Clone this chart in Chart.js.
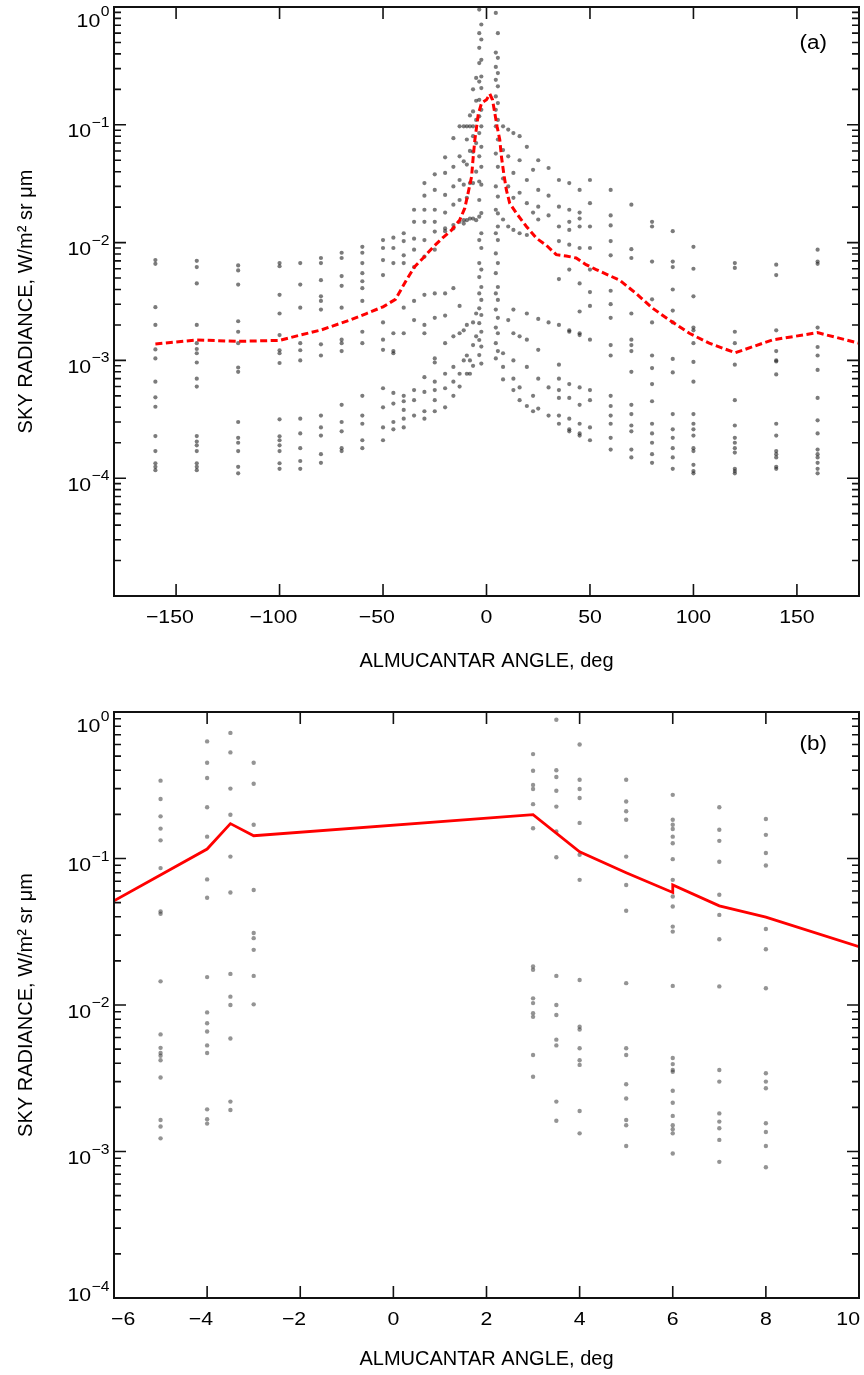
<!DOCTYPE html>
<html>
<head>
<meta charset="utf-8">
<title>Sky radiance vs almucantar angle</title>
<script src="https://cdn.jsdelivr.net/npm/chart.js@4.4.1/dist/chart.umd.min.js"></script>
<style>
  html, body { margin: 0; padding: 0; background: #fff; }
  .panel { position: absolute; left: 0; width: 864px; }
  #panelA { top: 0; height: 690px; }
  #panelB { top: 690px; height: 685px; }
</style>
</head>
<body>
<div class="panel" id="panelA"><canvas id="chartA" width="864" height="690"></canvas></div>
<div class="panel" id="panelB"><canvas id="chartB" width="864" height="685"></canvas></div>
<script>
/* ---------- data ---------- */

// (a) measured radiances, one column of values per almucantar angle (deg)
const anglesA = [-160, -140, -120, -100, -90, -80, -70, -60, -50, -45, -40, -35, -30, -25,
  -20, -16, -13, -11, -9.5, -8, -6.5, -5, -3.5, -2.5,
  4.5, 5.5, 8, 10.5, 13, 16, 19.5, 22.5, 25, 30, 35, 40, 45, 50, 60, 70, 80, 90, 100, 120, 140, 160];
const radiancesA = [
  [7.1e-3, 6.6e-3, 2.83e-3, 2.0e-3, 1.24e-3, 1.04e-3, 6.6e-4, 4.86e-4, 4.04e-4, 2.28e-4, 1.7e-4, 1.34e-4, 1.25e-4, 1.17e-4],
  [7.0e-3, 6.2e-3, 4.5e-3, 2.0e-3, 1.4e-3, 1.25e-3, 1.15e-3, 9.6e-4, 7.0e-4, 6.0e-4, 2.28e-4, 2.05e-4, 1.9e-4, 1.7e-4, 1.34e-4, 1.25e-4, 1.17e-4],
  [6.4e-3, 5.8e-3, 4.4e-3, 2.15e-3, 1.75e-3, 1.4e-3, 8.7e-4, 8.0e-4, 3.0e-4, 2.2e-4, 2.0e-4, 1.7e-4, 1.25e-4, 1.1e-4],
  [6.7e-3, 6.3e-3, 3.6e-3, 2.5e-3, 1.64e-3, 1.22e-3, 1.15e-3, 9.5e-4, 3.16e-4, 2.27e-4, 2.1e-4, 1.9e-4, 1.7e-4, 1.34e-4, 1.2e-4],
  [6.7e-3, 4.4e-3, 2.8e-3, 1.4e-3, 1.22e-3, 1.0e-3, 3.2e-4, 2.4e-4, 1.8e-4, 1.4e-4, 1.2e-4],
  [7.4e-3, 6.7e-3, 4.8e-3, 3.5e-3, 3.2e-3, 2.7e-3, 1.37e-3, 1.1e-3, 3.4e-4, 2.7e-4, 2.3e-4, 1.6e-4, 1.35e-4],
  [8.2e-3, 7.4e-3, 5.2e-3, 4.3e-3, 2.8e-3, 1.5e-3, 1.4e-3, 1.2e-3, 4.2e-4, 3.0e-4, 2.5e-4, 1.8e-4, 1.7e-4],
  [9.2e-3, 8.2e-3, 6.7e-3, 5.5e-3, 4.7e-3, 4.1e-3, 3.2e-3, 1.75e-3, 1.4e-3, 5.0e-4, 3.4e-4, 2.9e-4, 2.1e-4, 1.8e-4],
  [1.05e-2, 9.0e-3, 7.1e-3, 5.3e-3, 2.1e-3, 1.5e-3, 1.23e-3, 5.8e-4, 4.0e-4, 2.7e-4, 2.1e-4],
  [1.1e-2, 9.0e-3, 6.7e-3, 1.7e-3, 1.2e-3, 1.15e-3, 5.3e-4, 4.3e-4, 3.0e-4, 2.6e-4],
  [1.2e-2, 1.03e-2, 7.8e-3, 6.7e-3, 2.8e-3, 1.7e-3, 5.0e-4, 4.5e-4, 3.8e-4, 3.2e-4, 2.7e-4],
  [1.9e-2, 1.5e-2, 1.08e-2, 8.7e-3, 6.2e-3, 3.2e-3, 2.2e-3, 5.6e-4, 4.6e-4, 3.4e-4],
  [3.2e-2, 2.5e-2, 1.9e-2, 1.5e-2, 1.05e-2, 7.6e-3, 3.6e-3, 2.0e-3, 1.7e-3, 7.2e-4, 5.4e-4, 3.7e-4, 3.2e-4],
  [3.8e-2, 2.8e-2, 1.9e-2, 1.5e-2, 1.24e-2, 8.7e-3, 3.7e-3, 2.3e-3, 1.04e-3, 9.6e-4, 6.6e-4, 5.6e-4, 4.6e-4, 3.7e-4],
  [0.053, 0.039, 0.0254, 0.018, 0.0132, 0.0125, 3.7e-3, 2.4e-3, 1.4e-3, 7.7e-4, 5.8e-4, 4.0e-4],
  [0.077, 0.044, 0.030, 0.021, 0.0141, 0.0132, 4.1e-3, 1.6e-3, 8.8e-4, 6.6e-4, 5.0e-4],
  [0.097, 0.054, 0.034, 0.023, 0.015, 2.9e-3, 1.7e-3, 7.7e-4, 6.0e-4],
  [0.097, 0.049, 0.031, 0.0155, 0.0145, 1.8e-3, 1.0e-3],
  [0.097, 0.075, 0.046, 0.024, 0.0155, 2.0e-3, 1.1e-3, 7.7e-4],
  [0.12, 0.097, 0.06, 0.032, 0.016, 1.0e-3, 7.7e-4],
  [0.2, 0.13, 0.097, 0.08, 0.059, 0.032, 0.016, 2.1e-3, 1.35e-3, 9.0e-4],
  [0.25, 0.16, 0.11, 0.07, 0.04, 0.0155, 2.5e-3, 1.6e-3],
  [0.95, 0.60, 0.45, 0.334, 0.233, 0.163, 0.118, 0.085, 0.054, 0.033, 0.023, 0.0166, 0.0105, 0.0067, 0.0051, 0.0037, 2.77e-3, 2.07e-3, 1.49e-3, 1.11e-3],
  [0.71, 0.53, 0.356, 0.257, 0.205, 0.134, 0.097, 0.065, 0.044, 0.031, 0.0178, 0.012, 0.009, 0.0059, 0.0042, 3.26e-3, 2.43e-3, 1.75e-3, 1.31e-3, 9.4e-4],
  [0.89, 0.41, 0.31, 0.241, 0.174, 0.134, 0.097, 0.057, 0.030, 0.019, 0.012, 0.0081, 0.0055, 0.0037, 2.7e-3, 1.9e-3, 1.4e-3, 1.04e-3],
  [0.60, 0.37, 0.275, 0.212, 0.153, 0.110, 0.075, 0.044, 0.0246, 0.0177, 0.0137, 0.0105, 0.0067, 0.0042, 3.26e-3, 2.3e-3, 1.7e-3, 1.2e-3],
  [0.097, 0.061, 0.035, 0.0157, 1.15e-3, 8.8e-4, 6.9e-4],
  [0.091, 0.054, 0.030, 0.0137, 2.2e-3],
  [0.085, 0.039, 0.024, 0.0128, 2.7e-3, 1.7e-3, 1.0e-3, 7.0e-4, 5.6e-4],
  [0.080, 0.050, 0.0265, 0.012, 1.6e-3, 5.9e-4, 4.6e-4],
  [0.065, 0.034, 0.0216, 0.0116, 2.5e-3, 1.5e-3, 8.8e-4, 4.1e-4],
  [0.0415, 0.018, 5.0e-4, 3.7e-4],
  [0.050, 0.028, 0.0202, 0.0157, 2.25e-3, 1.23e-3, 7.0e-4, 3.9e-4],
  [0.043, 0.025, 0.017, 2.1e-3, 5.9e-4, 3.4e-4],
  [0.034, 0.0202, 0.0137, 0.0103, 4.9e-3, 2.0e-3, 9.2e-4, 7.0e-4, 5.6e-4, 4.8e-4, 3.4e-4, 2.9e-4],
  [0.032, 0.019, 0.015, 0.0128, 9.6e-3, 5.9e-3, 1.8e-3, 1.75e-3, 6.3e-4, 4.8e-4, 3.2e-4, 2.6e-4, 2.5e-4],
  [0.028, 0.018, 0.016, 0.0137, 9.0e-3, 4.5e-3, 2.6e-3, 1.7e-3, 1.64e-3, 5.9e-4, 4.2e-4, 2.9e-4, 2.4e-4, 2.3e-4],
  [0.034, 0.0216, 0.0137, 9.0e-3, 5.9e-3, 3.8e-3, 2.9e-3, 1.5e-3, 5.6e-4, 4.6e-4, 2.7e-4, 2.1e-4],
  [0.028, 0.017, 0.014, 0.0103, 7.8e-3, 3.9e-3, 3.0e-3, 2.3e-3, 1.35e-3, 1.1e-3, 5.0e-4, 4.1e-4, 3.4e-4, 2.9e-4, 2.2e-4, 1.75e-4],
  [0.021, 8.8e-3, 7.4e-3, 2.5e-3, 1.5e-3, 1.35e-3, 1.2e-3, 8.0e-4, 4.2e-4, 3.5e-4, 2.8e-4, 2.5e-4, 1.75e-4, 1.5e-4],
  [0.015, 0.0137, 6.9e-3, 3.3e-3, 2.1e-3, 1.1e-3, 8.6e-4, 6.3e-4, 4.5e-4, 2.9e-4, 2.4e-4, 2.0e-4, 1.6e-4, 1.35e-4],
  [0.0125, 6.9e-3, 6.2e-3, 4.0e-3, 2.65e-3, 2.1e-3, 1.03e-3, 7.9e-4, 3.5e-4, 2.6e-4, 2.2e-4, 1.8e-4, 1.5e-4, 1.2e-4],
  [9.2e-3, 6.0e-3, 3.5e-3, 1.9e-3, 1.8e-3, 1.4e-3, 9.7e-4, 6.6e-4, 3.5e-4, 2.9e-4, 2.6e-4, 2.3e-4, 1.8e-4, 1.7e-4, 1.3e-4, 1.15e-4, 1.1e-4],
  [6.7e-3, 6.1e-3, 1.75e-3, 1.4e-3, 9.2e-4, 4.6e-4, 2.8e-4, 2.2e-4, 2.0e-4, 1.8e-4, 1.65e-4, 1.2e-4, 1.15e-4, 1.1e-4],
  [6.5e-3, 5.3e-3, 1.8e-3, 1.2e-3, 1.0e-3, 9.8e-4, 7.6e-4, 2.9e-4, 2.3e-4, 1.7e-4, 1.6e-4, 1.5e-4, 1.25e-4, 1.2e-4],
  [8.7e-3, 6.9e-3, 6.6e-3, 1.9e-3, 1.3e-3, 1.1e-3, 8.3e-4, 4.8e-4, 3.1e-4, 2.4e-4, 1.75e-4, 1.6e-4, 1.5e-4, 1.35e-4, 1.2e-4, 1.1e-4]
];

// (a) model curve (red dashed)
const modelAngleA = [-160, -140, -120, -100, -90, -80, -66, -58, -50, -44, -38.7, -34.7, -30.6, -25.7, -20.9,
  -16.8, -12.9, -10.5, -8.9, -7.2, -6.4, -5.6, -4.0, -2.4, 0, 1.6, 2.9, 4.0, 5.1, 6.4, 7.2, 8.3, 9.6,
  11.2, 14.4, 19.3, 24.1, 28.9, 33.7, 38.5, 43.3, 48.1, 53, 64.3, 72.3, 80.3, 88.4, 98, 107.6, 120.2,
  138, 159.9, 180];
const modelRadA = [1.38e-3, 1.49e-3, 1.45e-3, 1.48e-3, 1.64e-3, 1.81e-3, 2.2e-3, 2.5e-3, 2.85e-3, 3.3e-3,
  4.8e-3, 6.25e-3, 7.4e-3, 9.2e-3, 1.11e-2, 1.28e-2, 1.56e-2, 1.96e-2, 2.63e-2, 3.64e-2, 5.4e-2, 7.5e-2,
  0.122, 0.153, 0.163, 0.183, 0.163, 0.126, 0.097, 0.075, 0.054, 0.039, 0.028, 0.0216, 0.0178, 0.0137,
  0.0109, 9.5e-3, 7.9e-3, 7.7e-3, 7.4e-3, 6.5e-3, 5.9e-3, 4.8e-3, 3.7e-3, 2.77e-3, 2.2e-3, 1.7e-3,
  1.4e-3, 1.16e-3, 1.49e-3, 1.72e-3, 1.4e-3];

// (b) measured radiances near the sun
const anglesB = [-5, -4, -3.5, -3, 3, 3.5, 4, 5, 6, 7, 8];
const radiancesB = [
  [0.34, 0.255, 0.194, 0.16, 0.133, 0.086, 0.0435, 0.042, 0.0145, 6.3e-3, 5.1e-3, 4.7e-3, 4.5e-3, 4.2e-3, 3.2e-3, 1.64e-3, 1.48e-3, 1.23e-3],
  [0.63, 0.45, 0.354, 0.224, 0.141, 0.072, 0.054, 0.0155, 8.9e-3, 7.5e-3, 6.6e-3, 5.3e-3, 4.7e-3, 1.94e-3, 1.66e-3, 1.55e-3],
  [0.72, 0.53, 0.30, 0.199, 0.103, 0.0586, 0.0163, 0.0114, 0.010, 5.9e-3, 2.19e-3, 1.92e-3],
  [0.45, 0.324, 0.17, 0.061, 0.031, 0.0286, 0.0238, 0.0158, 0.0101],
  [0.516, 0.397, 0.318, 0.298, 0.235, 0.161, 0.0183, 0.0174, 0.0111, 0.0103, 8.8e-3, 8.3e-3, 4.56e-3, 3.24e-3],
  [0.885, 0.40, 0.36, 0.29, 0.226, 0.153, 0.102, 0.0158, 0.010, 8.55e-3, 5.8e-3, 5.3e-3, 2.19e-3, 1.62e-3],
  [0.60, 0.345, 0.298, 0.259, 0.175, 0.106, 0.0715, 0.0148, 7.1e-3, 6.8e-3, 5.07e-3, 4.2e-3, 3.9e-3, 1.89e-3, 1.33e-3],
  [0.345, 0.245, 0.21, 0.184, 0.103, 0.066, 0.044, 0.0141, 5.07e-3, 4.56e-3, 2.88e-3, 2.3e-3, 1.64e-3, 1.51e-3, 1.09e-3],
  [0.272, 0.184, 0.17, 0.159, 0.141, 0.127, 0.099, 0.0715, 0.055, 0.047, 0.0343, 0.0317, 0.0135, 4.35e-3, 3.95e-3, 3.6e-3, 3.5e-3, 2.6e-3, 2.15e-3, 1.75e-3, 1.51e-3, 1.42e-3, 1.33e-3, 9.7e-4],
  [0.224, 0.157, 0.132, 0.095, 0.0565, 0.0412, 0.0281, 0.0134, 3.6e-3, 3.0e-3, 1.82e-3, 1.6e-3, 1.44e-3, 1.2e-3, 8.5e-4],
  [0.186, 0.145, 0.109, 0.0896, 0.033, 0.024, 0.013, 3.42e-3, 3.0e-3, 2.7e-3, 1.56e-3, 1.36e-3, 1.09e-3, 7.8e-4]
];

// (b) model curve (red solid)
const modelAngleB = [-6, -4, -3.5, -3, 3, 4, 5, 6, 6, 7, 8, 10];
const modelRadB = [0.0514, 0.116, 0.173, 0.143, 0.199, 0.111, 0.080, 0.0586, 0.066, 0.0475, 0.0398, 0.025];

// axis ticks and labels
const xTicksA = [-150, -100, -50, 0, 50, 100, 150];
const xTicksB = [-6, -4, -2, 0, 2, 4, 6, 8, 10];
const yDecades = [1, 0.1, 0.01, 0.001, 0.0001];
const yExponents = ['0', '\u22121', '\u22122', '\u22123', '\u22124'];

/* ---------- helpers ---------- */

const FONT = '"Liberation Sans", Arial, Helvetica, sans-serif';
const SX = 1.12;            // the printed lettering is a little wide
const Y_TITLE = 'SKY RADIANCE, W/m² sr μm';
const X_TITLE = 'ALMUCANTAR ANGLE, deg';

function columnsToPoints(angles, values) {
  const pts = [];
  angles.forEach((a, i) => values[i].forEach(v => pts.push({ x: a, y: v })));
  return pts;
}

function pairsToPoints(xs, ys) {
  return xs.map((x, i) => ({ x, y: ys[i] }));
}

// 1..9 x 10^n ticks between two decades
function logTicks(min, max) {
  const out = [];
  for (let e = Math.round(Math.log10(min)); e < Math.round(Math.log10(max)); e++) {
    for (let m = 1; m < 10; m++) out.push({ value: m * Math.pow(10, e) });
  }
  out.push({ value: max });
  return out;
}

function textWidth(ctx, text, size) {
  ctx.font = size + 'px ' + FONT;
  return ctx.measureText(text).width * SX;
}

function drawText(ctx, text, left, baseline, size) {
  ctx.save();
  ctx.font = size + 'px ' + FONT;
  ctx.translate(left, baseline);
  ctx.scale(SX, 1);
  ctx.textAlign = 'left';
  ctx.textBaseline = 'alphabetic';
  ctx.fillText(text, 0, 0);
  ctx.restore();
}

// inward ticks on all four sides, frame, tick labels and panel letter
const frameTicks = {
  id: 'frameTicks',
  afterDraw(chart, args, opts) {
    const { ctx, chartArea: a, scales: { x, y } } = chart;
    ctx.save();
    ctx.strokeStyle = '#111';
    ctx.lineWidth = 1.6;
    ctx.beginPath();
    x.ticks.forEach(t => {
      const px = x.getPixelForValue(t.value);
      ctx.moveTo(px, a.bottom); ctx.lineTo(px, a.bottom - 12);
      ctx.moveTo(px, a.top); ctx.lineTo(px, a.top + 12);
    });
    y.ticks.forEach(t => {
      const py = y.getPixelForValue(t.value);
      const lg = Math.log10(t.value);
      const len = Math.abs(lg - Math.round(lg)) < 1e-6 ? 12 : 7;
      ctx.moveTo(a.left, py); ctx.lineTo(a.left + len, py);
      ctx.moveTo(a.right, py); ctx.lineTo(a.right - len, py);
    });
    ctx.stroke();
    ctx.lineWidth = 2;
    ctx.strokeRect(a.left, a.top, a.right - a.left, a.bottom - a.top);

    ctx.fillStyle = '#000';
    // x tick labels: digits centred on the tick, minus sign hanging left
    x.ticks.forEach(t => {
      const v = t.value;
      const digits = String(Math.abs(v));
      const wd = textWidth(ctx, digits, 19);
      const wm = v < 0 ? textWidth(ctx, '\u2212', 19) : 0;
      let start = x.getPixelForValue(v) - wd / 2;
      if (start - wm < a.left - 3) start = a.left - 3 + wm;
      if (start + wd > a.right + 1) start = a.right + 1 - wd;
      if (v < 0) drawText(ctx, '\u2212', start - wm, a.bottom + 27, 19);
      drawText(ctx, digits, start, a.bottom + 27, 19);
    });
    // y tick labels: 10 with a raised exponent, kept inside the frame height
    yDecades.forEach((d, i) => {
      if (d < opts.yLabelMin) return;
      const py = y.getPixelForValue(d);
      const base = Math.min(Math.max(py + 12.5, a.top + 19.5), a.bottom + 3);
      const w10 = textWidth(ctx, '10', 19);
      const we = textWidth(ctx, yExponents[i], 14);
      const start = a.left - 5 - w10 - we;
      drawText(ctx, '10', start, base, 19);
      drawText(ctx, yExponents[i], start + w10 + 0.5, base - 10.5, 14);
    });
    // panel letter
    const wl = textWidth(ctx, opts.label, 20);
    drawText(ctx, opts.label, a.right - 32 - wl, a.top + opts.labelDy + 7, 20);
    ctx.restore();
  }
};

function makeChart(id, cfg) {
  return new Chart(document.getElementById(id), {
    type: 'scatter',
    data: {
      datasets: [
        {
          data: cfg.model,
          showLine: true,
          borderColor: '#ff0000',
          borderWidth: cfg.dashed ? 3 : 2.8,
          borderDash: cfg.dashed ? [7, 3.5] : [],
          pointRadius: 0,
          tension: 0,
          order: 0
        },
        {
          data: cfg.points,
          showLine: false,
          pointRadius: cfg.dotSize,
          pointStyle: 'circle',
          backgroundColor: cfg.dotColor,
          borderWidth: 0,
          order: 1
        }
      ]
    },
    options: {
      responsive: false,
      animation: false,
      events: [],
      layout: { padding: { top: cfg.padTop, right: 5, left: 0, bottom: 0 } },
      plugins: {
        legend: { display: false },
        tooltip: { enabled: false },
        frameTicks: { label: cfg.label, labelDy: cfg.labelDy, yLabelMin: 1e-4 }
      },
      scales: {
        x: {
          type: 'linear',
          min: cfg.xMin,
          max: cfg.xMax,
          grid: { display: false, drawTicks: false },
          border: { display: false },
          afterBuildTicks: s => { s.ticks = cfg.xTicks.map(v => ({ value: v })); },
          afterFit: s => { s.height = cfg.xHeight; s.paddingLeft = 0; s.paddingRight = 0; },
          ticks: { display: false, autoSkip: false },
          title: {
            display: true,
            text: X_TITLE,
            color: '#000',
            font: { family: FONT, size: 20 },
            padding: { top: 0, bottom: cfg.xTitlePad }
          }
        },
        y: {
          type: 'logarithmic',
          min: cfg.yMin,
          max: 1,
          grid: { display: false, drawTicks: false },
          border: { display: false },
          afterBuildTicks: s => { s.ticks = logTicks(cfg.yMin, 1); },
          afterFit: s => { s.width = 114; s.paddingTop = 0; s.paddingBottom = 0; },
          ticks: { display: false, autoSkip: false },
          title: {
            display: true,
            text: Y_TITLE,
            color: '#000',
            font: { family: FONT, size: 20 },
            padding: { top: 14, bottom: 0 }
          }
        }
      }
    },
    plugins: [frameTicks]
  });
}

makeChart('chartA', {
  points: columnsToPoints(anglesA, radiancesA),
  model: pairsToPoints(modelAngleA, modelRadA),
  dashed: true,
  dotSize: 2.1, dotColor: 'rgba(35,35,35,0.6)',
  xMin: -180, xMax: 180, xTicks: xTicksA,
  yMin: 1e-5,
  padTop: 7, xHeight: 94, xTitlePad: 17,
  label: '(a)', labelDy: 35
});

makeChart('chartB', {
  points: columnsToPoints(anglesB, radiancesB),
  model: pairsToPoints(modelAngleB, modelRadB),
  dashed: false,
  dotSize: 2.2, dotColor: 'rgba(60,60,60,0.55)',
  xMin: -6, xMax: 10, xTicks: xTicksB,
  yMin: 1e-4,
  padTop: 22, xHeight: 77, xTitlePad: 4,
  label: '(b)', labelDy: 31
});
</script>
</body>
</html>
